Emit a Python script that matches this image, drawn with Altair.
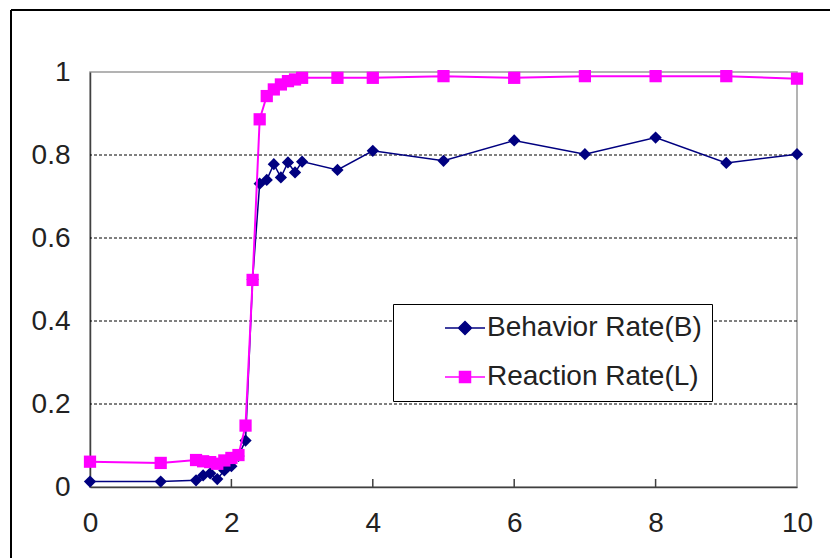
import altair as alt
import pandas as pd

# ---- data ----
x_vals = [0, 1, 1.5, 1.6, 1.7, 1.8, 1.9, 2.0, 2.1, 2.2, 2.3, 2.4, 2.5, 2.6, 2.7, 2.8, 2.9, 3.0,
          3.5, 4, 5, 6, 7, 8, 9, 10]
behavior = [0.013, 0.013, 0.016, 0.028, 0.033, 0.019, 0.040, 0.050, 0.075, 0.112, 0.50,
            0.731, 0.740, 0.778, 0.746, 0.782, 0.758, 0.784, 0.764, 0.810, 0.786, 0.835,
            0.802, 0.842, 0.781, 0.802]
reaction = [0.061, 0.058, 0.065, 0.062, 0.060, 0.056, 0.064, 0.070, 0.077, 0.148, 0.499,
            0.886, 0.942, 0.958, 0.970, 0.978, 0.982, 0.986, 0.986, 0.986, 0.990, 0.986,
            0.990, 0.990, 0.990, 0.984]
series_names = ["Behavior Rate(B)", "Reaction Rate(L)"]
series_colors = ["#000080", "#FF00FF"]
x_ticks = [0, 2, 4, 6, 8, 10]
y_ticks = [0, 0.2, 0.4, 0.6, 0.8, 1]
grid_values = [0.2, 0.4, 0.6, 0.8]
inner_x_ticks = [2, 4, 6, 8]

n = len(x_vals)
df = pd.DataFrame({
    "x": x_vals * 2,
    "y": behavior + reaction,
    "series": [series_names[0]] * n + [series_names[1]] * n,
})

FONT = "Liberation Sans"
W, H = 707, 415
PAD = {"left": 90, "top": 72, "right": 33, "bottom": 71}

xscale = alt.Scale(domain=[0, 10], nice=False, zero=False)
yscale = alt.Scale(domain=[0, 1], nice=False)
cscale = alt.Scale(domain=series_names, range=series_colors)

x_axis = alt.Axis(values=x_ticks, title=None, grid=False, ticks=False,
                  domainColor="#404040", domainWidth=1.5, labelFont=FONT, labelFontSize=28,
                  labelColor="#222222", labelPadding=22, labelFlush=False, labelOverlap=False)
y_axis = alt.Axis(values=y_ticks, title=None, grid=False, ticks=False,
                  domainColor="#404040", domainWidth=1.5, labelFont=FONT, labelFontSize=28,
                  labelColor="#222222", labelPadding=20, labelFlush=False, labelOverlap=False,
                  format="~g")

X = lambda f: alt.X(f, scale=xscale, axis=x_axis)
Y = lambda f: alt.Y(f, scale=yscale, axis=y_axis)

one = pd.DataFrame({"a": [0]})

# outer frame of the picture (left and top edges visible)
frame_left = alt.Chart(one).mark_rule(color="black", strokeWidth=2).encode(
    x=alt.value(-79), y=alt.value(-62), y2=alt.value(PAD["top"] + H + PAD["bottom"]))
frame_top = alt.Chart(one).mark_rule(color="black", strokeWidth=2).encode(
    x=alt.value(-79), x2=alt.value(W + 40), y=alt.value(-62))

grid = alt.Chart(pd.DataFrame({"g": grid_values})).mark_rule(
    color="black", strokeDash=[3, 2], strokeWidth=1).encode(y=Y("g:Q"))

ticks = alt.Chart(pd.DataFrame({"t": inner_x_ticks})).mark_rule(
    color="#404040", strokeWidth=1.5).encode(
    x=X("t:Q"), y=alt.value(H), y2=alt.value(H - 8))

base = alt.Chart(df)

def series_layers(name, color, shape, width):
    sub = base.transform_filter(alt.datum.series == name)
    line = sub.mark_line(strokeWidth=width, color=color).encode(x=X("x:Q"), y=Y("y:Q"))
    pts = sub.mark_point(filled=True, opacity=1, shape=shape, size=150, color=color).encode(
        x=X("x:Q"), y=Y("y:Q"))
    return [line, pts]

legend_paths = ["M-2,0H2M0,-0.65L0.65,0L0,0.65L-0.65,0Z",
                "M-2,0H2M-0.55,-0.55H0.55V0.55H-0.55Z"]

legend_def = alt.Legend(
    title=None,
    orient="none", legendX=303, legendY=232, direction="vertical",
    padding=10, strokeColor="black", fillColor="white",
    labelFont=FONT, labelFontSize=28, labelColor="#222222", labelLimit=600,
    labelExpr="datum.label + '\u00a0\u00a0\u00a0\u00a0\u00a0'",
    symbolSize=400, symbolStrokeWidth=1.5, symbolOffset=48, labelOffset=8,
    rowPadding=21,
)

legend_layer = base.transform_filter("false").mark_point(
    filled=True, size=400, strokeWidth=1.5, opacity=1).encode(
    x=X("x:Q"), y=Y("y:Q"),
    color=alt.Color("series:N", scale=cscale, legend=legend_def),
    stroke=alt.Stroke("series:N", scale=alt.Scale(domain=series_names, range=series_colors),
                      legend=legend_def),
    shape=alt.Shape("series:N", scale=alt.Scale(domain=series_names, range=legend_paths),
                    legend=legend_def),
)

layers = [frame_left, frame_top, grid, ticks]
layers += series_layers(series_names[0], series_colors[0], "diamond", 1.5)
layers += series_layers(series_names[1], series_colors[1], "square", 2)
layers += [legend_layer]

chart = alt.layer(*layers).properties(
    width=W, height=H, padding=PAD,
    autosize=alt.AutoSizeParams(type="none"),
    background="white",
).configure_view(stroke="#9a9a9a", strokeWidth=1.5)

chart.save("out.html", embed_options={"renderer": "svg", "actions": False})
